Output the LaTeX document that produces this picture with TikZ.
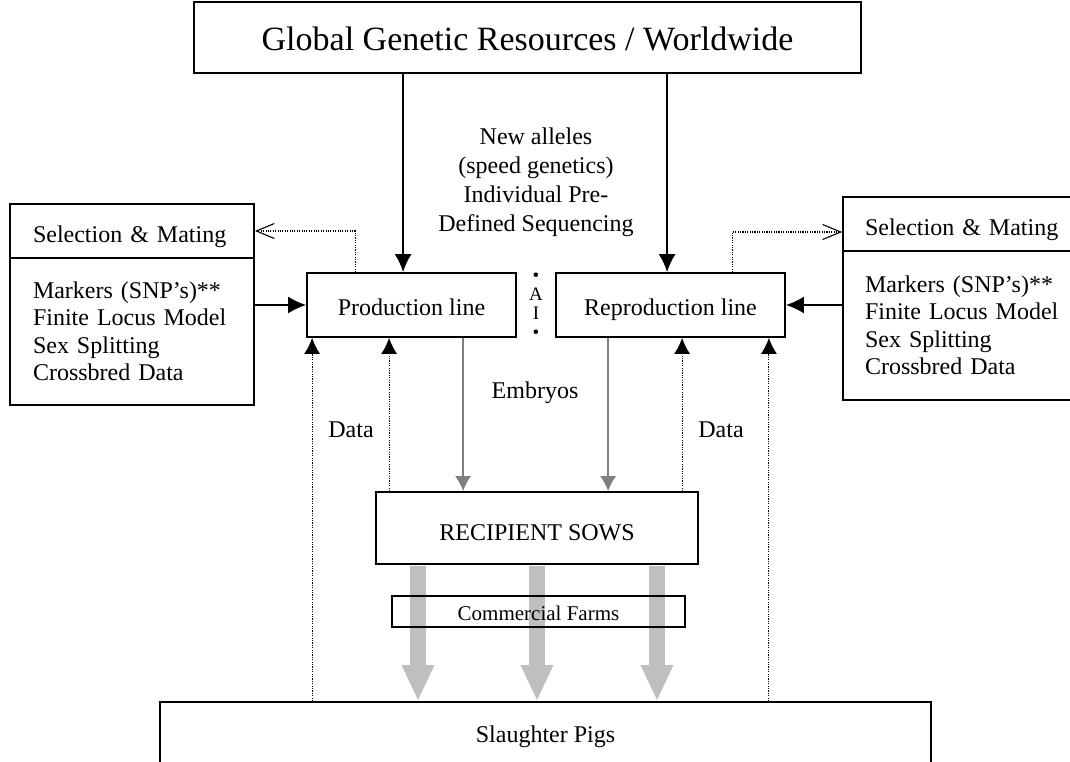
\documentclass[tikz,border=0pt]{standalone}
\usepackage{fontspec}
\setmainfont{Liberation Serif}
\usetikzlibrary{arrows.meta,calc}

\begin{document}
\begin{tikzpicture}[x=1pt, y=-1pt, line join=miter,
  txt/.style={font=\fontsize{24}{27.5}\selectfont},
  box/.style={draw, line width=1.8pt, inner sep=0pt, txt},
  oneline/.style={text height=21pt, text depth=0pt},
  head/.style={text height=22pt, text depth=0pt},
  mainlink/.style={-{Latex[length=18pt,width=17pt]}, line width=1.8pt},
  datalink/.style={-{Latex[length=16pt,width=16pt]}, line width=1.1pt, dash pattern=on 1.1pt off 1.3pt},
  feedback/.style={-{Straight Barb[length=18pt,width=15pt]}, line width=1.1pt, dash pattern=on 1.1pt off 1.3pt},
  embryolink/.style={-{Latex[length=15pt,width=16pt]}, line width=1.5pt, gray},
  bulklink/.style={-{Triangle[length=36pt,width=30pt]}, line width=16pt, gray!50}]
  \useasboundingbox (0,0) rectangle (1070,762);
  \clip (0,0) rectangle (1070,762);
  % boxes
  \node[box, minimum width=667pt, minimum height=71pt, font=\fontsize{34}{38}\selectfont, text height=27pt, text depth=0pt] (global) at (527.5,37.5) {Global Genetic Resources / Worldwide};
  \node[box, oneline, minimum width=209pt, minimum height=64pt] (prod) at (411.5,305) {Production line};
  \node[box, oneline, minimum width=229pt, minimum height=64pt] (repro) at (670.5,305) {Reproduction line};
  \node[box, minimum width=322pt, minimum height=72pt, text height=24pt, text depth=0pt] (sows) at (537,528) {RECIPIENT SOWS};
  \node[box, minimum width=771pt, minimum height=80pt, text height=10pt, text depth=10pt] (pigs) at (545.5,742) {Slaughter Pigs};
  \node[box, head, minimum width=244pt, minimum height=54pt, text width=198pt] (selL) at (132,231) {Selection \& Mating};
  \node[box, minimum width=244pt, minimum height=147pt, text width=198pt, align=left] (selLbody) at (132,331.5) {Markers (SNP’s)**\\Finite Locus Model\\Sex Splitting\\Crossbred Data};
  \node[box, head, minimum width=260pt, minimum height=54pt, text width=216pt] (selR) at (973,224) {Selection \& Mating};
  \node[box, minimum width=260pt, minimum height=149pt, text width=216pt, align=left] (selRbody) at (973,325.5) {Markers (SNP’s)**\\Finite Locus Model\\Sex Splitting\\Crossbred Data};
  % labels
  \node[align=center, font=\fontsize{24}{29}\selectfont] (alleles) at (536,182.5) {New alleles\\(speed genetics)\\Individual Pre-\\Defined Sequencing};
  \node[align=center, inner sep=0pt, font=\fontsize{19}{19}\selectfont] (ai) at (536,306) {•\\A\\I\\•};
  \node[txt] (embryos) at (535,393) {Embryos};
  \node[txt] (dataL) at (351,430) {Data};
  \node[txt] (dataR) at (721,430) {Data};
  % connector points
  \coordinate (topL) at ([xshift=97pt]prod.north west);
  \coordinate (topR) at ([xshift=112pt]repro.north west);
  \coordinate (fbL) at ([xshift=49pt]prod.north west);
  \coordinate (fbR) at ([xshift=177pt]repro.north west);
  \coordinate (embL) at ([xshift=157pt]prod.south west);
  \coordinate (embR) at ([xshift=53pt]repro.south west);
  \coordinate (dL1) at ([xshift=6pt]prod.south west);
  \coordinate (dL2) at ([xshift=83pt]prod.south west);
  \coordinate (dR1) at ([xshift=127pt]repro.south west);
  \coordinate (dR2) at ([xshift=-17pt]repro.south east);
  \coordinate (bk1) at ([xshift=-119pt,yshift=-1pt]sows.south);
  \coordinate (bk2) at ([yshift=-1pt]sows.south);
  \coordinate (bk3) at ([xshift=120pt,yshift=-1pt]sows.south);
  % arrows
  \draw[mainlink] (topL |- global.south) -- (topL);
  \draw[mainlink] (topR |- global.south) -- (topR);
  \draw[mainlink] (selLbody.east |- prod.west) -- (prod.west);
  \draw[mainlink] (selRbody.west |- repro.east) -- (repro.east);
  \draw[feedback] (fbL) |- (selL.east);
  \draw[feedback] (fbR) |- ([yshift=-8pt]selR.west);
  \draw[embryolink] (embL) -- (embL |- sows.north);
  \draw[embryolink] (embR) -- (embR |- sows.north);
  \draw[datalink] (dL1 |- pigs.north) -- (dL1);
  \draw[datalink] (dL2 |- sows.north) -- (dL2);
  \draw[datalink] (dR1 |- sows.north) -- (dR1);
  \draw[datalink] (dR2 |- pigs.north) -- (dR2);
  \foreach \k in {bk1,bk2,bk3}
    \draw[bulklink] (\k) -- (\k |- pigs.north);
  \node[box, minimum width=293pt, minimum height=31pt, font=\fontsize{21}{24}\selectfont, text height=17pt, text depth=0pt] (farms) at (538.5,611.5) {Commercial Farms};
\end{tikzpicture}
\end{document}
